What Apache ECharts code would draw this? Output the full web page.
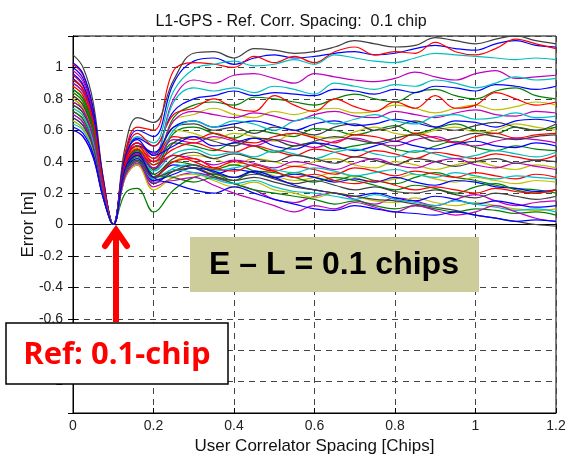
<!DOCTYPE html>
<html>
<head>
<meta charset="utf-8">
<title>L1-GPS correlator spacing</title>
<script src="https://cdn.jsdelivr.net/npm/echarts@6.0.0/dist/echarts.min.js"></script>
<style>
  html, body { margin: 0; padding: 0; background: #fff; }
  #main { width: 573px; height: 460px; }
</style>
</head>
<body>
<div id="main"></div>
<script>
// user correlator spacing [chips]
const xValues = [0, 0.025, 0.05, 0.075, 0.1, 0.13, 0.16, 0.2, 0.25, 0.3, 0.35, 0.4, 0.45, 0.5,
  0.55, 0.6, 0.65, 0.7, 0.75, 0.8, 0.85, 0.9, 0.95, 1.0, 1.05, 1.1, 1.15, 1.2]

// error [m], one row per curve, grouped by line colour
const blueCurves = [
  [1.0, 0.93, 0.72, 0.28, 0, 0.45, 0.6, 0.56, 0.9, 1.04, 1.06, 1.02, 1.06, 1.08, 1.06, 1.07, 1.09, 1.1, 1.08, 1.09, 1.12, 1.14, 1.12, 1.11, 1.15, 1.17, 1.14, 1.13],
  [0.93, 0.86, 0.67, 0.26, 0, 0.42, 0.55, 0.5, 0.72, 0.8, 0.82, 0.85, 0.82, 0.84, 0.83, 0.82, 0.86, 0.85, 0.83, 0.86, 0.84, 0.88, 0.87, 0.85, 0.89, 0.88, 0.86, 0.88],
  [0.68, 0.63, 0.49, 0.19, 0, 0.4, 0.5, 0.46, 0.62, 0.66, 0.62, 0.64, 0.66, 0.63, 0.6, 0.64, 0.66, 0.63, 0.64, 0.67, 0.65, 0.62, 0.66, 0.65, 0.62, 0.66, 0.67, 0.65],
  [0.96, 0.89, 0.69, 0.27, 0, 0.43, 0.54, 0.44, 0.5, 0.56, 0.5, 0.52, 0.55, 0.5, 0.48, 0.52, 0.5, 0.47, 0.5, 0.53, 0.5, 0.48, 0.51, 0.53, 0.5, 0.49, 0.52, 0.5],
  [1.03, 0.96, 0.74, 0.29, 0, 0.38, 0.46, 0.3, 0.38, 0.36, 0.32, 0.35, 0.33, 0.3, 0.32, 0.3, 0.27, 0.29, 0.27, 0.3, 0.27, 0.25, 0.28, 0.27, 0.24, 0.23, 0.21, 0.22],
  [0.62, 0.58, 0.45, 0.17, 0, 0.34, 0.42, 0.28, 0.32, 0.36, 0.34, 0.3, 0.34, 0.3, 0.25, 0.22, 0.2, 0.18, 0.2, 0.17, 0.15, 0.18, 0.16, 0.13, 0.15, 0.13, 0.11, 0.12],
  [0.6, 0.56, 0.43, 0.17, 0, 0.36, 0.44, 0.3, 0.26, 0.22, 0.2, 0.24, 0.2, 0.16, 0.13, 0.1, 0.09, 0.12, 0.1, 0.08, 0.07, 0.06, 0.08, 0.06, 0.04, 0.02, 0.03, 0.02]
]
const greenCurves = [
  [0.8, 0.74, 0.58, 0.22, 0, 0.36, 0.47, 0.4, 0.68, 0.76, 0.78, 0.76, 0.81, 0.8, 0.78, 0.76, 0.8, 0.83, 0.8, 0.78, 0.84, 0.86, 0.82, 0.8, 0.85, 0.87, 0.82, 0.8],
  [0.76, 0.71, 0.55, 0.21, 0, 0.37, 0.47, 0.36, 0.58, 0.62, 0.58, 0.55, 0.6, 0.58, 0.56, 0.61, 0.6, 0.57, 0.6, 0.63, 0.58, 0.61, 0.64, 0.6, 0.58, 0.62, 0.6, 0.62],
  [0.86, 0.8, 0.62, 0.24, 0, 0.38, 0.48, 0.35, 0.52, 0.5, 0.47, 0.52, 0.5, 0.46, 0.5, 0.52, 0.48, 0.5, 0.52, 0.48, 0.46, 0.5, 0.53, 0.49, 0.47, 0.5, 0.48, 0.47],
  [0.72, 0.67, 0.52, 0.2, 0, 0.34, 0.43, 0.3, 0.4, 0.38, 0.35, 0.38, 0.34, 0.3, 0.33, 0.3, 0.28, 0.31, 0.28, 0.26, 0.3, 0.33, 0.3, 0.28, 0.25, 0.23, 0.22, 0.2],
  [0.84, 0.78, 0.6, 0.24, 0, 0.2, 0.23, 0.08, 0.22, 0.3, 0.32, 0.28, 0.34, 0.33, 0.3, 0.27, 0.3, 0.28, 0.25, 0.22, 0.25, 0.23, 0.2, 0.24, 0.26, 0.22, 0.2, 0.22],
  [0.86, 0.8, 0.62, 0.24, 0, 0.35, 0.44, 0.32, 0.3, 0.27, 0.3, 0.26, 0.22, 0.2, 0.18, 0.16, 0.13, 0.15, 0.12, 0.1, 0.12, 0.1, 0.08, 0.1, 0.09, 0.07, 0.08, 0.06]
]
const redCurves = [
  [0.95, 0.88, 0.68, 0.27, 0, 0.46, 0.62, 0.6, 0.98, 1.03, 1.02, 1.0, 1.07, 1.03, 1.07, 1.03, 1.1, 1.13, 1.08, 1.1, 1.09, 1.16, 1.1, 1.08, 1.12, 1.18, 1.15, 1.12],
  [1.02, 0.95, 0.73, 0.29, 0, 0.44, 0.58, 0.5, 0.7, 0.74, 0.8, 0.74, 0.72, 0.82, 0.76, 0.72, 0.8, 0.75, 0.72, 0.78, 0.74, 0.82, 0.74, 0.76, 0.84, 0.8, 0.76, 0.78],
  [0.82, 0.76, 0.59, 0.23, 0, 0.41, 0.52, 0.42, 0.56, 0.54, 0.58, 0.54, 0.52, 0.56, 0.58, 0.55, 0.52, 0.57, 0.56, 0.53, 0.58, 0.55, 0.52, 0.56, 0.58, 0.55, 0.57, 0.58],
  [0.78, 0.73, 0.56, 0.22, 0, 0.4, 0.5, 0.4, 0.48, 0.52, 0.48, 0.46, 0.5, 0.47, 0.44, 0.48, 0.46, 0.43, 0.47, 0.45, 0.42, 0.46, 0.44, 0.42, 0.45, 0.43, 0.41, 0.44],
  [0.88, 0.82, 0.63, 0.25, 0, 0.38, 0.48, 0.38, 0.44, 0.4, 0.36, 0.4, 0.37, 0.34, 0.37, 0.35, 0.32, 0.36, 0.34, 0.31, 0.34, 0.32, 0.3, 0.33, 0.31, 0.29, 0.32, 0.3],
  [0.92, 0.86, 0.66, 0.26, 0, 0.36, 0.45, 0.3, 0.4, 0.42, 0.36, 0.34, 0.38, 0.34, 0.3, 0.32, 0.28, 0.26, 0.28, 0.25, 0.22, 0.24, 0.22, 0.2, 0.23, 0.21, 0.2, 0.22]
]
const cyanCurves = [
  [0.9, 0.84, 0.65, 0.25, 0, 0.42, 0.56, 0.52, 0.85, 0.99, 1.02, 1.04, 1.01, 1.02, 1.05, 1.02, 1.08, 1.06, 1.04, 1.03, 1.06, 1.09, 1.08, 1.07, 1.06, 1.05, 1.06, 1.05],
  [0.86, 0.8, 0.62, 0.24, 0, 0.38, 0.5, 0.44, 0.78, 0.87, 0.85, 0.87, 0.84, 0.88, 0.86, 0.83, 0.9, 0.88, 0.86, 0.89, 0.88, 0.92, 0.9, 0.87, 0.9, 0.94, 0.92, 0.93],
  [0.78, 0.73, 0.56, 0.22, 0, 0.36, 0.46, 0.38, 0.6, 0.66, 0.62, 0.66, 0.64, 0.6, 0.66, 0.68, 0.64, 0.67, 0.7, 0.66, 0.64, 0.69, 0.7, 0.67, 0.68, 0.71, 0.68, 0.69],
  [0.66, 0.61, 0.48, 0.18, 0, 0.35, 0.45, 0.34, 0.45, 0.48, 0.44, 0.46, 0.43, 0.47, 0.45, 0.42, 0.46, 0.48, 0.45, 0.43, 0.47, 0.45, 0.42, 0.44, 0.47, 0.45, 0.43, 0.46],
  [0.64, 0.6, 0.46, 0.18, 0, 0.3, 0.38, 0.26, 0.36, 0.38, 0.34, 0.36, 0.38, 0.35, 0.33, 0.36, 0.34, 0.31, 0.33, 0.35, 0.32, 0.3, 0.33, 0.31, 0.29, 0.31, 0.3, 0.29],
  [0.74, 0.69, 0.53, 0.21, 0, 0.33, 0.41, 0.29, 0.35, 0.33, 0.29, 0.26, 0.28, 0.24, 0.21, 0.2, 0.18, 0.16, 0.19, 0.16, 0.14, 0.12, 0.15, 0.13, 0.11, 0.09, 0.1, 0.08]
]
const magentaCurves = [
  [0.98, 0.91, 0.71, 0.27, 0, 0.4, 0.52, 0.45, 0.8, 0.92, 0.9, 0.95, 0.96, 0.93, 0.9, 0.96, 0.94, 0.92, 0.91, 0.93, 0.97, 0.94, 0.92, 0.96, 0.98, 0.93, 0.94, 0.95],
  [0.72, 0.67, 0.52, 0.2, 0, 0.38, 0.48, 0.42, 0.66, 0.72, 0.7, 0.68, 0.71, 0.69, 0.66, 0.7, 0.72, 0.69, 0.68, 0.72, 0.7, 0.68, 0.71, 0.73, 0.7, 0.69, 0.72, 0.71],
  [0.6, 0.56, 0.43, 0.17, 0, 0.34, 0.44, 0.4, 0.54, 0.52, 0.56, 0.53, 0.5, 0.54, 0.52, 0.49, 0.53, 0.55, 0.52, 0.5, 0.54, 0.56, 0.52, 0.5, 0.53, 0.55, 0.54, 0.52],
  [0.9, 0.84, 0.65, 0.25, 0, 0.36, 0.46, 0.36, 0.44, 0.42, 0.38, 0.41, 0.39, 0.36, 0.4, 0.38, 0.35, 0.39, 0.42, 0.38, 0.36, 0.4, 0.42, 0.38, 0.36, 0.39, 0.37, 0.35],
  [0.7, 0.65, 0.5, 0.2, 0, 0.3, 0.38, 0.24, 0.3, 0.33, 0.3, 0.26, 0.22, 0.16, 0.14, 0.18, 0.2, 0.16, 0.13, 0.17, 0.15, 0.12, 0.16, 0.19, 0.15, 0.12, 0.14, 0.15],
  [0.78, 0.73, 0.56, 0.22, 0, 0.31, 0.39, 0.27, 0.28, 0.3, 0.25, 0.2, 0.16, 0.12, 0.08, 0.12, 0.1, 0.14, 0.11, 0.08, 0.12, 0.09, 0.06, 0.08, 0.12, 0.08, 0.04, 0.02]
]
const yellowCurves = [
  [0.84, 0.78, 0.6, 0.24, 0, 0.4, 0.5, 0.4, 0.66, 0.7, 0.74, 0.7, 0.68, 0.72, 0.7, 0.73, 0.74, 0.71, 0.72, 0.76, 0.74, 0.71, 0.74, 0.76, 0.73, 0.75, 0.78, 0.76],
  [0.88, 0.82, 0.63, 0.25, 0, 0.39, 0.49, 0.38, 0.6, 0.58, 0.54, 0.58, 0.56, 0.53, 0.58, 0.56, 0.55, 0.59, 0.62, 0.58, 0.57, 0.6, 0.62, 0.59, 0.6, 0.64, 0.62, 0.6],
  [0.74, 0.69, 0.53, 0.21, 0, 0.33, 0.42, 0.3, 0.4, 0.44, 0.42, 0.38, 0.42, 0.4, 0.37, 0.4, 0.42, 0.38, 0.36, 0.4, 0.38, 0.35, 0.38, 0.4, 0.37, 0.35, 0.38, 0.36],
  [0.8, 0.74, 0.58, 0.22, 0, 0.32, 0.4, 0.28, 0.34, 0.36, 0.32, 0.3, 0.34, 0.31, 0.28, 0.3, 0.33, 0.3, 0.27, 0.29, 0.32, 0.29, 0.27, 0.3, 0.28, 0.26, 0.28, 0.27],
  [0.66, 0.61, 0.48, 0.18, 0, 0.3, 0.38, 0.22, 0.3, 0.32, 0.28, 0.24, 0.27, 0.22, 0.2, 0.17, 0.2, 0.18, 0.15, 0.14, 0.17, 0.14, 0.12, 0.14, 0.12, 0.1, 0.09, 0.1]
]
const grayCurves = [
  [1.08, 1.0, 0.78, 0.3, 0, 0.5, 0.68, 0.65, 0.92, 1.09, 1.1, 1.06, 1.12, 1.11, 1.09, 1.1, 1.13, 1.17, 1.15, 1.13, 1.14, 1.19, 1.17, 1.15, 1.18, 1.2, 1.17, 1.15],
  [0.92, 0.86, 0.66, 0.26, 0, 0.42, 0.52, 0.44, 0.62, 0.64, 0.6, 0.62, 0.58, 0.62, 0.6, 0.57, 0.62, 0.64, 0.6, 0.62, 0.66, 0.62, 0.6, 0.63, 0.65, 0.62, 0.6, 0.64],
  [0.7, 0.65, 0.5, 0.2, 0, 0.35, 0.45, 0.35, 0.52, 0.56, 0.53, 0.5, 0.55, 0.54, 0.5, 0.53, 0.56, 0.54, 0.52, 0.55, 0.57, 0.53, 0.55, 0.58, 0.56, 0.54, 0.56, 0.57],
  [0.82, 0.76, 0.59, 0.23, 0, 0.36, 0.46, 0.32, 0.42, 0.46, 0.42, 0.45, 0.42, 0.4, 0.44, 0.42, 0.39, 0.43, 0.41, 0.38, 0.42, 0.4, 0.37, 0.4, 0.42, 0.39, 0.41, 0.4],
  [0.76, 0.71, 0.55, 0.21, 0, 0.32, 0.4, 0.26, 0.34, 0.38, 0.33, 0.3, 0.32, 0.29, 0.26, 0.28, 0.25, 0.22, 0.24, 0.21, 0.2, 0.22, 0.19, 0.17, 0.2, 0.18, 0.16, 0.18],
  [0.68, 0.63, 0.49, 0.19, 0, 0.33, 0.41, 0.3, 0.34, 0.36, 0.31, 0.28, 0.3, 0.27, 0.24, 0.22, 0.2, 0.18, 0.16, 0.15, 0.13, 0.11, 0.09, 0.06, 0.04, 0.02, 0.0, -0.01]
]

const groups = [
  { curves: blueCurves, color: '#0000ff' },
  { curves: greenCurves, color: '#008000' },
  { curves: redCurves, color: '#ff0000' },
  { curves: cyanCurves, color: '#00bfbf' },
  { curves: magentaCurves, color: '#bf00bf' },
  { curves: yellowCurves, color: '#bfbf00' },
  { curves: grayCurves, color: '#404040' }
]

// interleave the groups the way matlab cycles its colour order
const series = []
for (let i = 0; i < 7; i++) {
  groups.forEach(g => {
    const curve = g.curves[i]
    if (!curve) return
    series.push({
      type: 'line',
      smooth: 0.4,
      symbol: 'none',
      silent: true,
      lineStyle: { width: 1.2, color: g.color },
      data: xValues.map((x, k) => [x, curve[k]])
    })
  })
}

const font = 'Liberation Sans, Arial, sans-serif'
const gridLine = { show: true, lineStyle: { color: '#444', type: [6, 5], width: 1 } }
const fmtX = v => String(Math.round(v * 10) / 10)
const fmtY = v => (Math.abs(v) > 1.1 ? '' : String(Math.round(v * 10) / 10))

const chart = echarts.init(document.getElementById('main'), null, { renderer: 'canvas' })
chart.setOption({
  animation: false,
  backgroundColor: '#fff',
  grid: {
    left: 73, right: 17, top: 36, bottom: 43,
    show: true, borderColor: '#000', borderWidth: 1, backgroundColor: 'transparent'
  },
  title: {
    text: 'L1-GPS - Ref. Corr. Spacing:  0.1 chip',
    left: 286, top: 9, textAlign: 'center',
    textStyle: { fontFamily: font, fontSize: 16, fontWeight: 'normal', color: '#111' }
  },
  xAxis: [{
    type: 'value', min: 0, max: 1.2, interval: 0.2,
    name: 'User Correlator Spacing [Chips]', nameLocation: 'middle', nameGap: 25,
    nameMoveOverlap: false,
    nameTextStyle: { fontFamily: font, fontSize: 17, color: '#111' },
    axisLine: { show: true, onZero: false, lineStyle: { color: '#000' } },
    axisTick: { show: true, inside: true, length: 5, lineStyle: { color: '#000' } },
    axisLabel: { fontFamily: font, fontSize: 14, color: '#222', margin: 6, formatter: fmtX },
    splitLine: gridLine
  }, {
    type: 'value', min: 0, max: 1.2, interval: 0.2, position: 'top',
    axisLine: { show: true, lineStyle: { color: '#000' } },
    axisTick: { show: true, inside: true, length: 5, lineStyle: { color: '#000' } },
    axisLabel: { show: false }, splitLine: { show: false }
  }],
  yAxis: [{
    type: 'value', min: -1.2, max: 1.2, interval: 0.2,
    name: 'Error [m]', nameLocation: 'middle', nameGap: 36, nameRotate: 90,
    nameMoveOverlap: false,
    nameTextStyle: { fontFamily: font, fontSize: 17, color: '#111' },
    axisLine: { show: true, onZero: false, lineStyle: { color: '#000' } },
    axisTick: { show: true, inside: true, length: 5, lineStyle: { color: '#000' } },
    axisLabel: { fontFamily: font, fontSize: 14, color: '#222', margin: 10, formatter: fmtY },
    splitLine: gridLine
  }, {
    type: 'value', min: -1.2, max: 1.2, interval: 0.2, position: 'right',
    axisLine: { show: true, lineStyle: { color: '#000' } },
    axisTick: { show: true, inside: true, length: 5, lineStyle: { color: '#000' } },
    axisLabel: { show: false }, splitLine: { show: false }
  }],
  series: series,
  graphic: [
    {
      type: 'rect', z: 100,
      shape: { x: 190, y: 237, width: 289, height: 55 },
      style: { fill: '#cdcc9b' }
    },
    {
      type: 'text', z: 101,
      style: {
        text: 'E \u2013 L = 0.1 chips', x: 334, y: 265,
        font: 'bold 32px Liberation Sans, Arial, sans-serif', fill: '#000',
        align: 'center', verticalAlign: 'middle', textAlign: 'center', textVerticalAlign: 'middle'
      }
    },
    {
      type: 'rect', z: 100,
      shape: { x: 6, y: 323, width: 222, height: 61 },
      style: { fill: '#fff', stroke: '#000', lineWidth: 1.5 }
    },
    {
      type: 'text', z: 101,
      style: {
        text: 'Ref: 0.1-chip', x: 117, y: 355,
        font: 'bold 31px Open Sans, Lato, sans-serif', fill: '#ff0000',
        align: 'center', verticalAlign: 'middle', textAlign: 'center', textVerticalAlign: 'middle'
      }
    },
    {
      type: 'polyline', z: 100,
      shape: { points: [[116, 322], [116, 234]] },
      style: { stroke: '#ff0000', lineWidth: 6, fill: null }
    },
    {
      type: 'polyline', z: 100,
      shape: { points: [[105, 246], [116, 230], [127, 246]] },
      style: { stroke: '#ff0000', lineWidth: 6, fill: null, lineCap: 'round', lineJoin: 'miter' }
    }
  ]
})
</script>
</body>
</html>
